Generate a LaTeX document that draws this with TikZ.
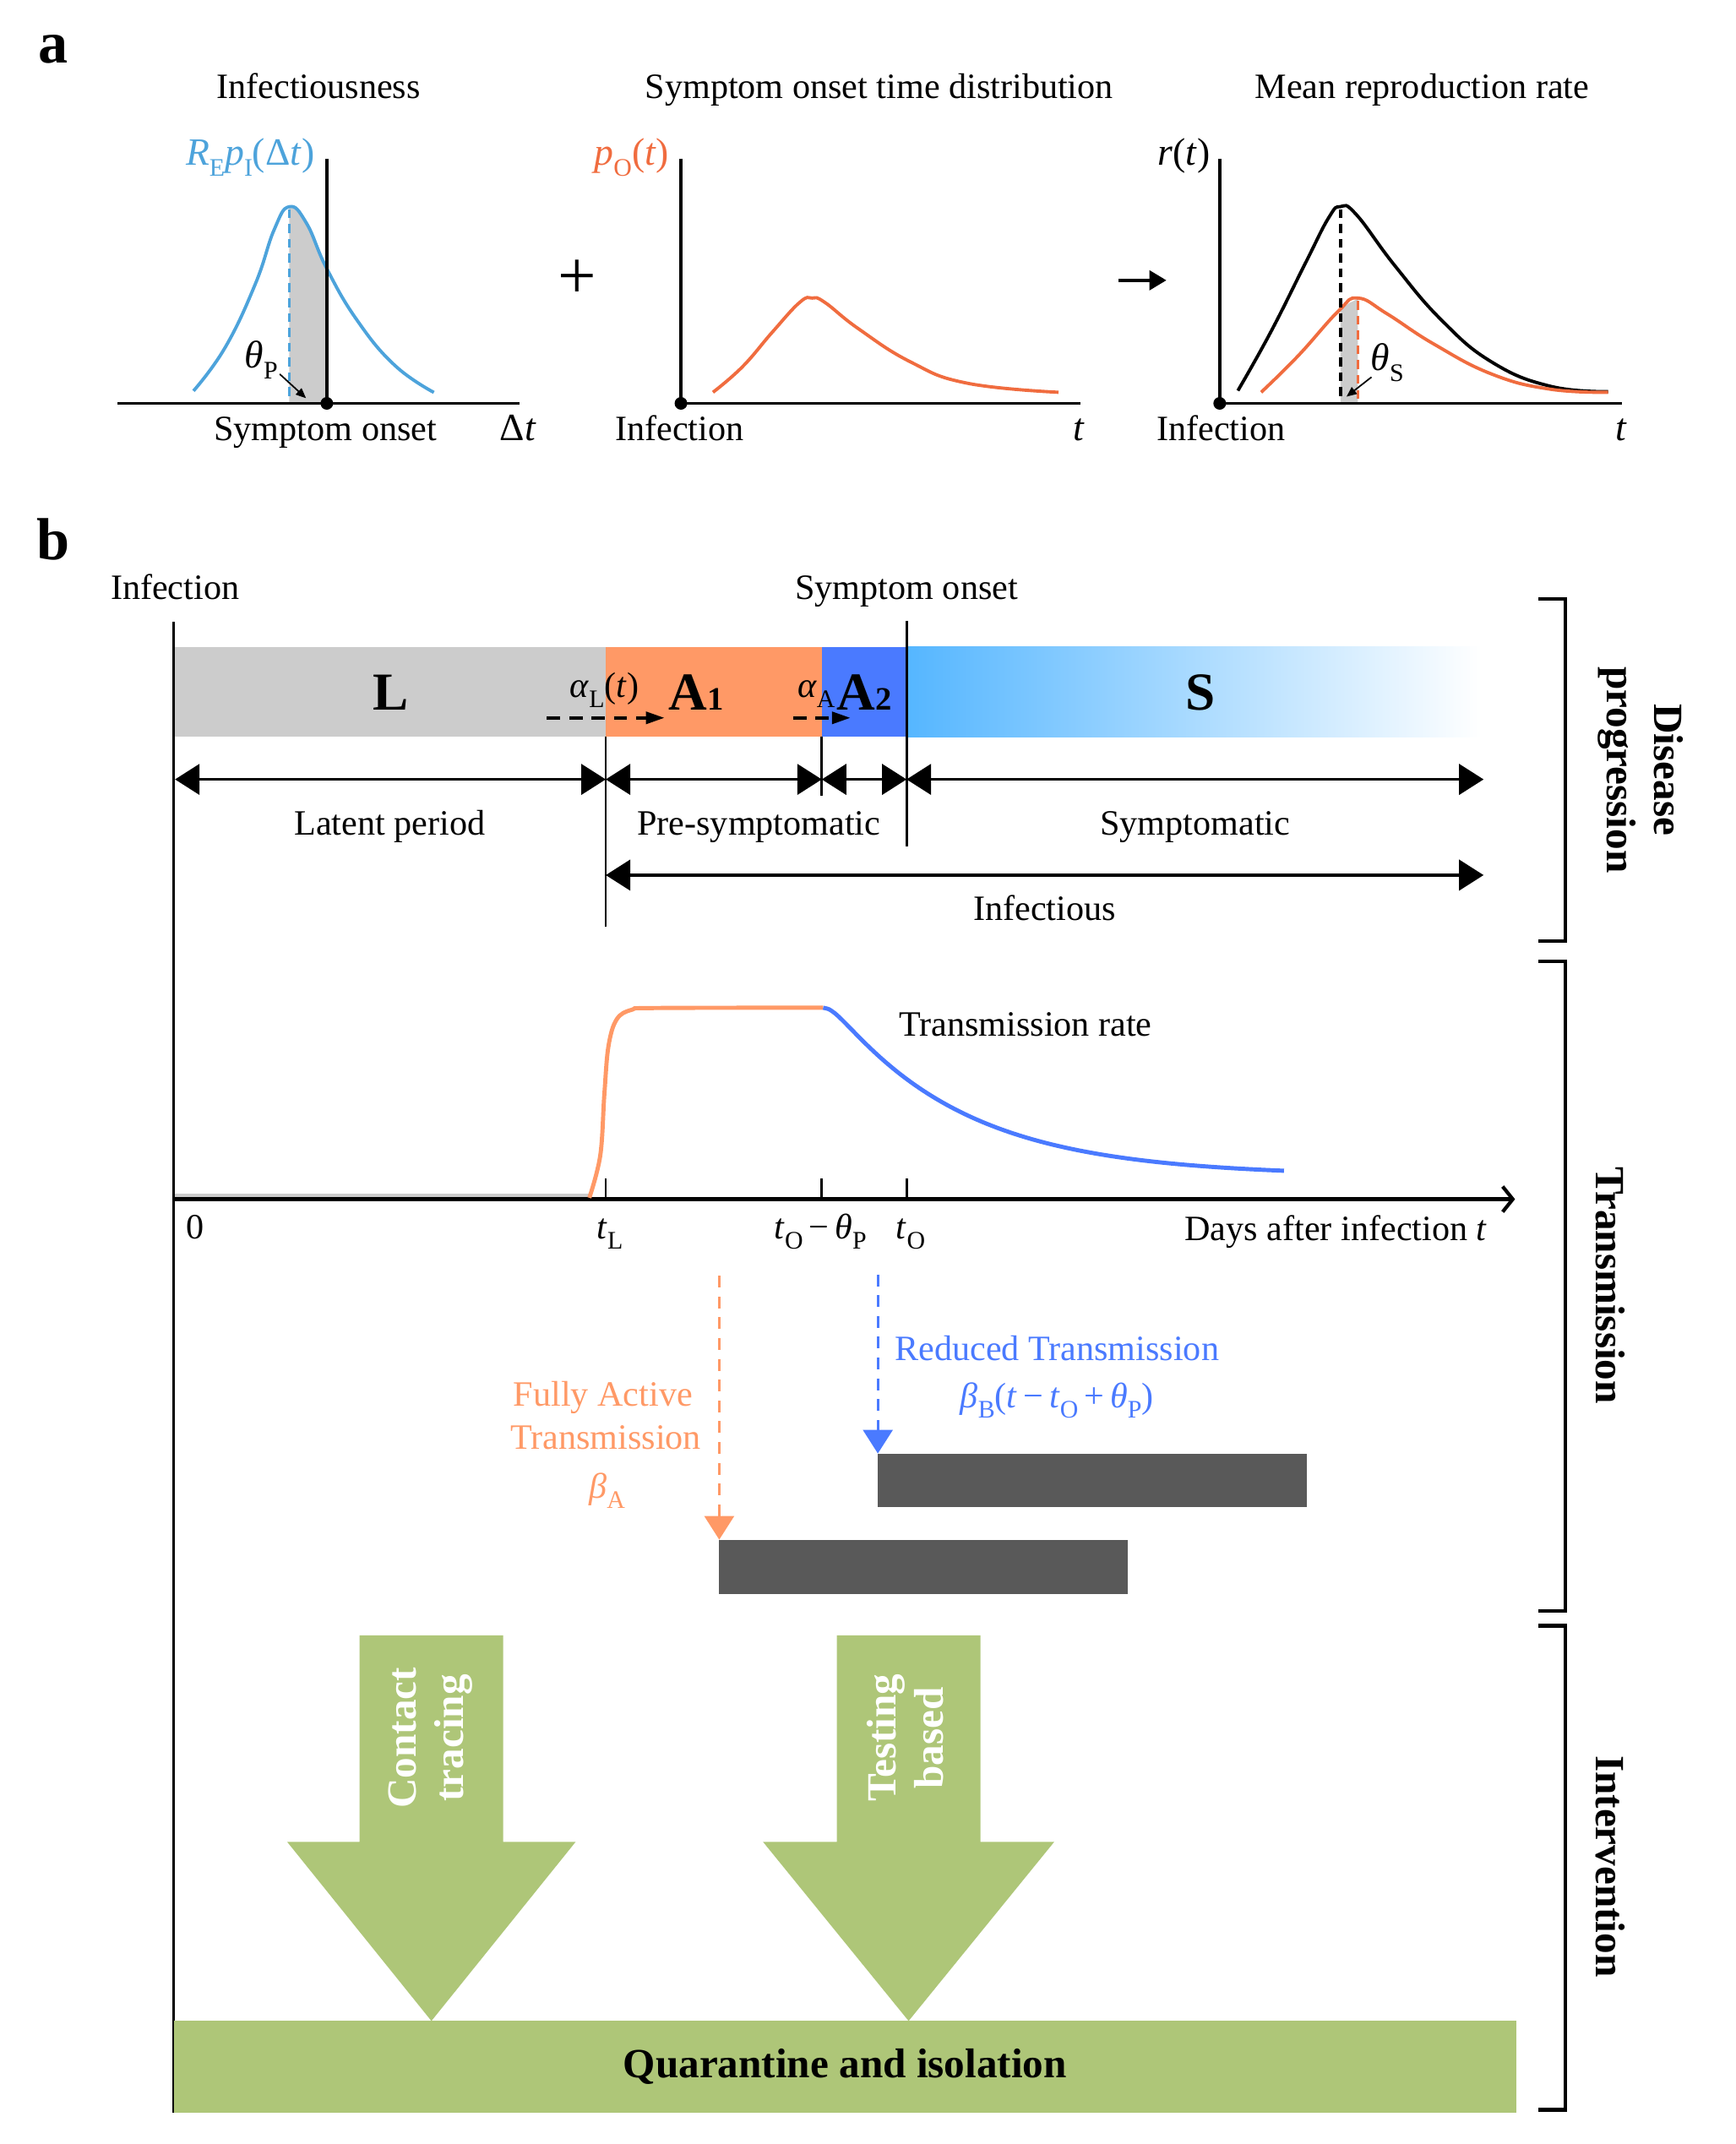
\documentclass[tikz,border=0pt]{standalone}
\usepackage{fontspec}
\setmainfont{Liberation Serif}
\usetikzlibrary{arrows.meta, positioning, calc}

\definecolor{infblue}{RGB}{77,163,219}
\definecolor{onsetorange}{RGB}{240,108,63}
\definecolor{latgray}{RGB}{204,204,204}
\definecolor{actorange}{RGB}{255,153,102}
\definecolor{redblue}{RGB}{74,122,255}
\definecolor{symblue}{RGB}{85,182,255}
\definecolor{bardark}{RGB}{89,89,89}
\definecolor{intgreen}{RGB}{174,198,120}

\newcommand{\sbs}[1]{\raisebox{-0.28em}{\fontsize{8.5}{9}\selectfont #1}}
\newcommand{\vi}[1]{\textit{#1}}

\begin{document}
\begin{tikzpicture}[x=0.016186cm, y=-0.016186cm,
    txt/.style={font=\fontsize{12}{14}\selectfont, inner sep=0pt, anchor=base},
    mtxt/.style={font=\fontsize{13}{15}\selectfont, inner sep=0pt, anchor=base},
    panel/.style={font=\fontsize{20}{22}\selectfont\bfseries, inner sep=0pt, anchor=base},
    ax/.style={line width=1pt},
    crv/.style={line width=1.1pt},
    dot/.style={circle, fill=black, inner sep=0pt, minimum size=0.15cm},
    guide/.style={line width=1pt, dash pattern=on 3pt off 2pt},
    pointer/.style={line width=0.5pt, -{Triangle[length=0.12cm,width=0.1cm]}},
    span/.style={line width=1pt, >={Triangle[length=0.29cm,width=0.36cm]}, <->},
    sep/.style={line width=0.8pt},
    stage/.style={font=\fontsize{18}{20}\selectfont\bfseries, inner sep=0pt, anchor=base},
    hop/.style={line width=1.1pt, dash pattern=on 4.5pt off 3pt, -{Triangle[length=0.22cm,width=0.14cm]}},
    drop/.style={line width=0.8pt, dash pattern=on 4pt off 3pt, -{Triangle[length=0.28cm,width=0.35cm]}},
    darkbar/.style={fill=bardark, inner sep=0pt, outer sep=0pt, anchor=north west},
    side/.style={font=\fontsize{14}{16}\selectfont\bfseries, align=center, inner sep=0pt},
    brk/.style={line width=1.2pt},
    big/.style={fill=intgreen}
  ]
  \useasboundingbox (0,0) rectangle (1269,1568);

  % ---------- panel a ----------
  \node[panel] (pa) at (39,46) {a};
  \node[txt] (t1) at (233,72) {Infectiousness};
  \node[txt] (t2) at (643,72) {Symptom onset time distribution};
  \node[txt] (t3) at (1040,72) {Mean reproduction rate};

  % infectiousness around symptom onset
  \coordinate (so) at (239,295);
  \fill[latgray] (211.5,295) -- (211.5,151.2) -- (217,153.5) -- (222.5,161.1) -- (231,178) -- (239,196.5) -- (so) -- cycle;
  \draw[crv, infblue] plot[smooth, tension=0.75] coordinates {(141.5,285.9) (164.8,253.9) (186.8,207.5) (200.5,168) (211.5,151.2) (224,163) (239,196.5) (261,234) (288.5,267) (317.3,287)};
  \draw[guide, infblue] (211.5,153) -- (211.5,295);
  \draw[ax] (86,295) -- (380,295);
  \draw[ax] (239,116) -- (so);
  \node[dot] (sodot) at (so) {};
  \node[mtxt, text=infblue] (ylab1) at (183,121) {\vi{R}\sbs{E}\vi{p}\sbs{I}(Δ\vi{t})};
  \node[mtxt] (thp) at (191,269) {\vi{θ}\sbs{P}};
  \draw[pointer] (204.6,273.6) -- (223.8,291.2);
  \node[txt] (xl1) at (238,322) {Symptom onset};
  \node[mtxt] (xr1) at (379,322) {Δ\vi{t}};
  \node[font=\fontsize{23}{23}\selectfont, inner sep=0pt] (plus) at (422,204) {+};

  % onset time distribution
  \coordinate (inf2) at (498,295);
  \draw[crv, onsetorange] plot[smooth, tension=0.75] coordinates {(521.4,286.9) (543.1,268.1) (565,242.7) (585,221) (594,218) (603,221) (627.9,240.5) (666.1,264.8) (707.1,280.2) (774.1,286.9)};
  \draw[ax] (inf2) -- (790,295);
  \draw[ax] (498,116) -- (inf2);
  \node[dot] (inf2dot) at (inf2) {};
  \node[mtxt, text=onsetorange] (ylab2) at (462,121) {\vi{p}\sbs{O}(\vi{t})};
  \node[txt] (xl2) at (497,322) {Infection};
  \node[mtxt] (xr2) at (789,322) {\vi{t}};
  \draw[line width=1pt, -{Triangle[length=0.2cm,width=0.23cm]}] (818,205) -- (853,205);

  % mean reproduction rate
  \coordinate (inf3) at (892,295);
  \fill[latgray] (980.4,295) -- (980.4,226.5) -- (987,221.5) -- (993.1,218.6) -- (993.1,295) -- cycle;
  \draw[crv] plot[smooth, tension=0.75] coordinates {(905.3,285.7) (929.4,242.7) (954.9,192) (971.9,158.9) (980.4,151.1) (991.7,156.7) (1020,194.2) (1054,233.9) (1091,264.8) (1133.5,282.4) (1176,286.4)};
  \draw[crv, onsetorange] plot[smooth, tension=0.75] coordinates {(922.3,286.9) (949.2,260.4) (979,227.3) (993.1,218) (1014.4,229.5) (1048.4,251.5) (1091,273.6) (1133.5,284.6) (1176,286.9)};
  \draw[guide] (980.4,153) -- (980.4,295);
  \draw[guide, onsetorange] (993.1,220) -- (993.1,295);
  \draw[ax] (inf3) -- (1186,295);
  \draw[ax] (892,116) -- (inf3);
  \node[dot] (inf3dot) at (inf3) {};
  \node[mtxt] (ylab3) at (866,121) {\vi{r}(\vi{t})};
  \node[mtxt] (ths) at (1014.5,271) {\vi{θ}\sbs{S}};
  \draw[pointer] (1003,275.8) -- (984.7,290.1);
  \node[txt] (xl3) at (893,322) {Infection};
  \node[mtxt] (xr3) at (1186,322) {\vi{t}};

  % ---------- panel b ----------
  \node[panel] (pb) at (39,409) {b};
  \node[txt] (infb) at (128,438.6) {Infection};
  \node[txt] (onb) at (663,438.6) {Symptom onset};

  % disease stages
  \fill[latgray] (128,473) rectangle (443,539);
  \fill[actorange] (443,473) rectangle (601,539);
  \fill[redblue] (601,473) rectangle (663,539);
  \shade[left color=symblue, right color=white] (663,473) rectangle (1083,539);
  \node[stage] (sL) at (286,519) {L};
  \node[stage] (sA1) at (509,519) {A{\fontsize{11}{11}\selectfont 1}};
  \node[stage] (sA2) at (632,519) {A{\fontsize{11}{11}\selectfont 2}};
  \node[stage] (sS) at (878,519) {S};
  \node[txt] (aL) at (442,510) {\vi{α}\sbs{L}(\vi{t})};
  \node[txt] (aA) at (597,510) {\vi{α}\sbs{A}};
  \draw[hop] (400,525) -- (486,525);
  \draw[hop] (580,525) -- (622,525);

  \draw[sep] (127,455) -- (127,1545);
  \draw[sep] (443,539) -- (443,678);
  \draw[sep] (601,539) -- (601,582);
  \draw[sep] (663,454) -- (663,619);

  % periods
  \draw[span] (128,570) -- (443,570);
  \draw[span] (443,570) -- (601,570);
  \draw[span] (601,570) -- (663,570);
  \draw[span] (663,570) -- (1085,570);
  \draw[span] (443,640) -- (1085,640);
  \node[txt] (latent) at (285,610.6) {Latent period};
  \node[txt] (presym) at (555,610.6) {Pre-symptomatic};
  \node[txt] (sym) at (874,610.6) {Symptomatic};
  \node[txt] (infs) at (764,673.4) {Infectious};

  % transmission rate
  \draw[line width=2pt, latgray] (128,875) -- (431,875);
  \draw[line width=1.2pt, -{Straight Barb[length=0.12cm,width=0.3cm]}] (127,877) -- (1108,877);
  \foreach \x in {443,601,663} \draw[sep] (\x,862) -- (\x,877);
  \draw[line width=1.4pt, actorange] plot[smooth, tension=0.6] coordinates {(431,876) (439,845) (442,800) (445,765) (451,745.5) (462,738.5) (480,737.2) (602,737)};
  \draw[line width=1.4pt, redblue] plot[domain=0:337, samples=80, smooth] ({602+\x}, {737+123*(1-exp(-(10*sqrt((\x/10)^2+1)-10)/94))});
  \node[txt] (rate) at (750,758) {Transmission rate};
  \node[txt] (zero) at (143,906) {0};
  \node[txt] (tL) at (446,906) {\vi{t}\sbs{L}};
  \node[txt] (tOP) at (600,906) {\vi{t}\sbs{O}\,−\,\vi{θ}\sbs{P}};
  \node[txt] (tO) at (666,906) {\vi{t}\sbs{O}};
  \node[txt] (days) at (977,907) {Days after infection \vi{t}};

  % active and reduced transmission
  \node[darkbar, minimum width=5.082cm, minimum height=0.631cm] (redbar) at (642,1063) {};
  \node[darkbar, minimum width=4.840cm, minimum height=0.647cm] (fullbar) at (526,1126) {};
  \coordinate (fulltop) at (526,933);
  \coordinate (redtop) at (642,932);
  \draw[drop, actorange] (fulltop) -- (fullbar.north west);
  \draw[drop, redblue] (redtop) -- (redbar.north west);
  \node[txt, text=actorange] (fa1) at (441,1028.6) {Fully Active};
  \node[txt, text=actorange] (fa2) at (443,1059.6) {Transmission};
  \node[txt, text=actorange] (fa3) at (444,1095.7) {\vi{β}\sbs{A}};
  \node[txt, text=redblue] (rt1) at (773,994.7) {Reduced Transmission};
  \node[txt, text=redblue] (rt2) at (773,1029.7) {\vi{β}\sbs{B}(\vi{t}\,−\,\vi{t}\sbs{O}\,+\,\vi{θ}\sbs{P})};

  % interventions
  \fill[big] (263,1196) -- (368,1196) -- (368,1347) -- (421,1347) -- (315.5,1478) -- (210,1347) -- (263,1347) -- cycle;
  \fill[big] (612,1196) -- (717,1196) -- (717,1347) -- (771,1347) -- (664.5,1478) -- (558,1347) -- (612,1347) -- cycle;
  \node[side, text=white, rotate=90] (ct) at (315,1271) {Contact\\tracing};
  \node[side, text=white, rotate=90] (tb) at (662,1271) {Testing\\based};
  \node[big, inner sep=0pt, outer sep=0pt, minimum width=15.895cm, minimum height=1.084cm, font=\fontsize{14}{16}\selectfont\bfseries] (qbar) at (618,1511.5) {Quarantine and isolation};

  % side brackets
  \draw[brk] (1125,438) -- (1145,438) -- (1145,688) -- (1125,688);
  \draw[brk] (1125,703) -- (1145,703) -- (1145,1178) -- (1125,1178);
  \draw[brk] (1125,1189) -- (1145,1189) -- (1145,1543) -- (1125,1543);
  \node[side, rotate=-90] (dp) at (1200,563) {Disease\\progression};
  \node[side, rotate=-90] (tr) at (1178,940) {Transmission};
  \node[side, rotate=-90] (iv) at (1178,1365) {Intervention};
\end{tikzpicture}
\end{document}
